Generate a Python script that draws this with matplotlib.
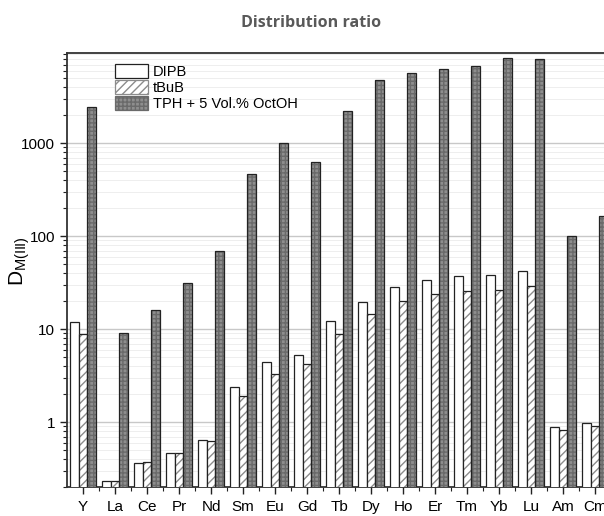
import numpy as np
import matplotlib
matplotlib.use("Agg")
import matplotlib.pyplot as plt
from matplotlib.patches import Patch
from matplotlib.ticker import FixedLocator, NullFormatter, LogLocator

# ── data ─────────────────────────────────────────────────────────────
elements = ["Y", "La", "Ce", "Pr", "Nd", "Sm", "Eu", "Gd", "Tb",
            "Dy", "Ho", "Er", "Tm", "Yb", "Lu", "Am", "Cm"]
dipb = [12.0, 0.23, 0.36, 0.47, 0.65, 2.36, 4.4, 5.3, 12.3,
        19.7, 28.5, 34, 37, 38.7, 42, 0.88, 0.97]
tbub = [8.8, 0.23, 0.37, 0.47, 0.62, 1.9, 3.3, 4.2, 8.9,
        14.5, 20.3, 24, 25.6, 26.5, 29, 0.83, 0.90]
tph = [2450, 9.1, 16, 31, 69, 464, 1000, 627, 2240,
       4760, 5700, 6300, 6800, 8260, 7950, 100, 165]
series_names = ["DIPB", "tBuB", "TPH + 5 Vol.% OctOH"]

plt.rcParams["font.family"] = ["Liberation Sans", "DejaVu Sans"]

fig = plt.figure(figsize=(6.04, 5.16), dpi=100)
# axes runs past the right edge, as in the (cropped) original
ax = fig.add_axes([0.111, 0.056, 0.9007, 0.841])

x = np.arange(len(elements))
w = 0.27

# DIPB: plain white
ax.bar(x - w, dipb, w, facecolor="white", edgecolor="#222222", linewidth=0.9,
       zorder=3)

# tBuB: thin diagonal hatch
ax.bar(x, tbub, w, facecolor="white", edgecolor="#8c8c8c", linewidth=0,
       hatch="////", zorder=3)
ax.bar(x, tbub, w, fill=False, edgecolor="#222222", linewidth=0.9, zorder=4)

# TPH: dark grey, fine cross-hatch
ax.bar(x + w, tph, w, facecolor="#8e8e8e", edgecolor="#6a6a6a", linewidth=0,
       hatch="++++", zorder=3)
ax.bar(x + w, tph, w, fill=False, edgecolor="#222222", linewidth=0.9, zorder=4)

# legend proxies
handles = [
    Patch(facecolor="white", edgecolor="#222222", linewidth=0.9),
    Patch(facecolor="white", edgecolor="#8c8c8c", hatch="////", linewidth=0.9),
    Patch(facecolor="#8e8e8e", edgecolor="#6a6a6a", hatch="++++", linewidth=0.9),
]
ax.legend(handles, series_names, loc="upper left",
          bbox_to_anchor=(0.088, 0.975), frameon=False, fontsize=10.5,
          handlelength=2.25, handleheight=1.1, handletextpad=0.35,
          labelspacing=0.06, borderaxespad=0.0, borderpad=0.0)

ax.set_yscale("log")
ax.set_ylim(0.2, 9300)
ax.set_xlim(-0.5, len(elements) - 0.5)

ax.yaxis.set_major_locator(FixedLocator([1, 10, 100, 1000]))
ax.set_yticklabels(["1", "10", "100", "1000"])
ax.yaxis.set_minor_locator(LogLocator(base=10, subs=np.arange(2, 10)))
ax.yaxis.set_minor_formatter(NullFormatter())

ax.set_xticks(x)
ax.set_xticklabels(elements)
ax.set_xticks(x + 0.5, minor=True)

ax.tick_params(axis="both", which="major", labelsize=11, direction="out",
               length=5, width=1.0, color="#222222")
ax.tick_params(axis="both", which="minor", direction="out", length=3,
               width=0.8, color="#222222")
ax.tick_params(axis="x", which="major", pad=4)

ax.grid(axis="y", which="major", color="#c8c8c8", linewidth=1.0, zorder=0)
ax.grid(axis="y", which="minor", color="#eeeeee", linewidth=0.7, zorder=0)
ax.set_axisbelow(True)

for side in ["left", "bottom", "top"]:
    ax.spines[side].set_linewidth(1.3)
    ax.spines[side].set_color("#333333")

ax.set_ylabel(r"D$_{\mathregular{M(III)}}$", fontsize=15)
ax.yaxis.set_label_coords(-0.064, 0.52)

fig.text(0.515, 0.956, "Distribution ratio", ha="center", va="center",
         fontsize=11.6, fontweight="bold", color="#595959", family="Open Sans")

fig.savefig("out.png", dpi=100)
